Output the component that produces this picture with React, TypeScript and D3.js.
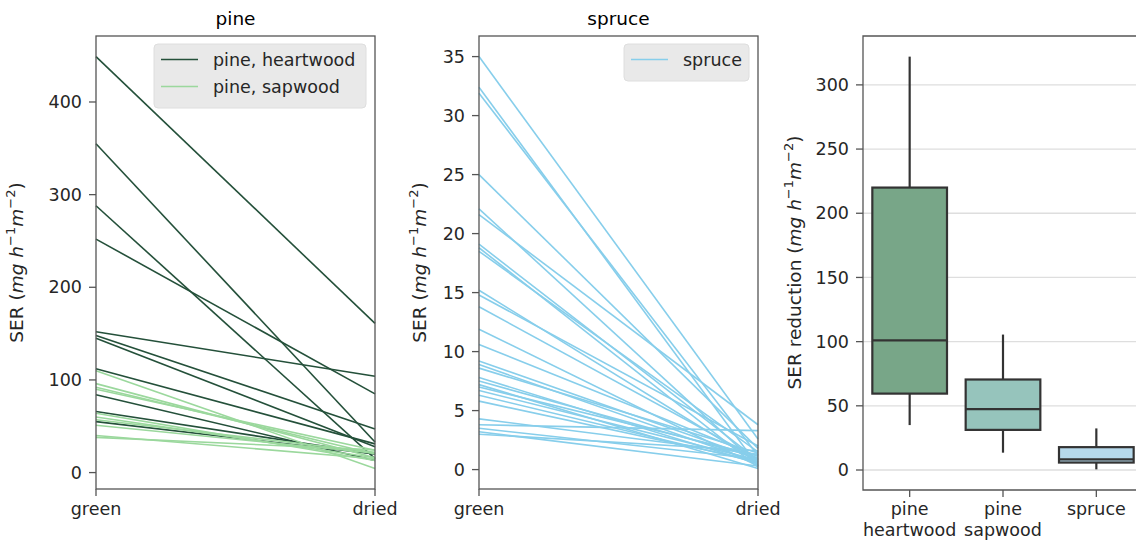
import React from "react";
import * as d3 from "d3";

// ---------- data ----------
const xCategories = ["green", "dried"];

const pineHeartGreen = [449, 355, 288, 252, 152, 148, 145, 112, 84, 66, 55];
const pineHeartDried = [161, 33, 15, 85, 104, 47, 28, 31, 13, 20, 20];
const pineSapGreen = [110, 96, 92, 90, 64, 60, 57, 51, 40, 38];
const pineSapDried = [4.5, 16, 20, 24, 13, 16, 22, 21, 15, 24.5];

const spruceGreen = [35.0, 32.4, 31.9, 25.0, 22.1, 21.6, 19.1, 18.8, 18.5, 15.2, 14.8, 13.8, 11.9, 10.6, 9.2, 8.9, 8.6, 7.8, 7.5, 7.2, 7.0, 6.7, 6.3, 5.8, 4.3, 3.8, 3.5, 3.2, 3.0];
const spruceDried = [2.6, 0.3, 1.2, 1.8, 0.4, 3.8, 0.8, 0.2, 1.5, 0.6, 2.0, 0.9, 0.3, 1.1, 0.9, 0.6, 1.4, 0.5, 1.0, 0.1, 1.2, 0.8, 0.6, 0.7, 1.3, 3.3, 0.9, 0.3, 1.6];

const pineTicks = [0, 100, 200, 300, 400];
const spruceTicks = [0, 5, 10, 15, 20, 25, 30, 35];
const reductionTicks = [0, 50, 100, 150, 200, 250, 300];

const boxCategories = [["pine", "heartwood"], ["pine", "sapwood"], ["spruce"]];

// ---------- styles ----------
const FONT = "DejaVu Sans, sans-serif";
const TXT = "#262626";
const SPINE = "#555555";
const HEART = "#24503a";
const SAP = "#9bd89d";
const SPRUCE = "#87ceeb";
const BOX_FILLS = ["#78a688", "#96c4bc", "#b6d9eb"];
const TOP = 36;
const BOTTOM = 489;

function padDomain(vals: number[]): [number, number] {
  const lo = d3.min(vals)!;
  const hi = d3.max(vals)!;
  const m = (hi - lo) * 0.05;
  return [lo - m, hi + m];
}

function YLabel({ cx, text }: { cx: number; text: string }) {
  const cy = (TOP + BOTTOM) / 2;
  return (
    <text
      transform={`translate(${cx},${cy}) rotate(-90)`}
      textAnchor="middle"
      fontSize={18.5}
      fill={TXT}
      fontFamily={FONT}
    >
      {text} (<tspan fontStyle="italic">mg h</tspan>
      <tspan fontSize={13} dy={-8}>−1</tspan>
      <tspan dy={8} fontStyle="italic">m</tspan>
      <tspan fontSize={13} dy={-8}>−2</tspan>
      <tspan dy={8}>)</tspan>
    </text>
  );
}

type Series = { green: number[]; dried: number[]; color: string; label: string };

function LinePanel({
  x0, x1, title, ticks, series, legendWidth, labelX,
}: {
  x0: number; x1: number; title: string; ticks: number[]; series: Series[]; legendWidth: number; labelX: number;
}) {
  const all = series.flatMap((s) => [...s.green, ...s.dried]);
  const y = d3.scaleLinear().domain(padDomain(all)).range([BOTTOM, TOP]);
  const x = d3.scalePoint<string>().domain(xCategories).range([x0, x1]);
  const line = d3.line<[string, number]>().x((d) => x(d[0])!).y((d) => y(d[1]));
  const legX = x1 - 9 - legendWidth;
  const legH = 10 + series.length * 27;
  return (
    <g fontFamily={FONT}>
      <text x={(x0 + x1) / 2} y={25} textAnchor="middle" fontSize={18.5} fill="#000">{title}</text>
      {series.map((s, si) =>
        s.green.map((g, i) => (
          <path
            key={si + "-" + i}
            d={line([["green", g], ["dried", s.dried[i]]])!}
            stroke={s.color}
            strokeWidth={1.6}
            fill="none"
          />
        ))
      )}
      <rect x={x0} y={TOP} width={x1 - x0} height={BOTTOM - TOP} fill="none" stroke={SPINE} strokeWidth={1.3} />
      {ticks.map((t) => (
        <g key={t}>
          <line x1={x0 - 7} x2={x0} y1={y(t)} y2={y(t)} stroke={SPINE} strokeWidth={1.3} />
          <text x={x0 - 14} y={y(t)} dy="0.35em" textAnchor="end" fontSize={17.5} fill={TXT}>{t}</text>
        </g>
      ))}
      {xCategories.map((c) => (
        <g key={c}>
          <line x1={x(c)} x2={x(c)} y1={BOTTOM} y2={BOTTOM + 7} stroke={SPINE} strokeWidth={1.3} />
          <text x={x(c)} y={BOTTOM + 26} textAnchor="middle" fontSize={17.5} fill={TXT}>{c}</text>
        </g>
      ))}
      <rect x={legX} y={44} width={legendWidth} height={legH} rx={4} fill="#e9e9e9" stroke="#dedede" />
      {series.map((s, i) => (
        <g key={s.label}>
          <line x1={legX + 7} x2={legX + 44} y1={59.5 + i * 27} y2={59.5 + i * 27} stroke={s.color} strokeWidth={1.6} />
          <text x={legX + 59} y={59.5 + i * 27} dy="0.35em" fontSize={17.5} fill={TXT}>{s.label}</text>
        </g>
      ))}
      <YLabel cx={labelX} text="SER" />
    </g>
  );
}

function boxStats(vals: number[]) {
  const s = [...vals].sort(d3.ascending);
  const q1 = d3.quantile(s, 0.25)!;
  const med = d3.quantile(s, 0.5)!;
  const q3 = d3.quantile(s, 0.75)!;
  const iqr = q3 - q1;
  const lo = d3.min(s.filter((v) => v >= q1 - 1.5 * iqr))!;
  const hi = d3.max(s.filter((v) => v <= q3 + 1.5 * iqr))!;
  return { q1, med, q3, lo, hi };
}

function BoxPanel({ x0, x1 }: { x0: number; x1: number }) {
  const groups = [
    pineHeartGreen.map((g, i) => g - pineHeartDried[i]),
    pineSapGreen.map((g, i) => g - pineSapDried[i]),
    spruceGreen.map((g, i) => g - spruceDried[i]),
  ];
  const stats = groups.map(boxStats);
  const keys = boxCategories.map((c) => c.join(" "));
  const x = d3.scaleBand<string>().domain(keys).range([x0, x1]);
  const y = d3.scaleLinear()
    .domain(padDomain(stats.flatMap((s) => [s.lo, s.hi])))
    .range([BOTTOM + 1, TOP]);
  const bw = x.bandwidth() * 0.8;
  return (
    <g fontFamily={FONT}>
      {reductionTicks.map((t) => (
        <line key={"g" + t} x1={x0} x2={x1} y1={y(t)} y2={y(t)} stroke="#dedede" strokeWidth={1.3} />
      ))}
      {stats.map((s, i) => {
        const cx = x(keys[i])! + x.bandwidth() / 2;
        return (
          <g key={i} stroke="#333" strokeWidth={2.2}>
            <line x1={cx} x2={cx} y1={y(s.hi)} y2={y(s.q3)} />
            <line x1={cx} x2={cx} y1={y(s.q1)} y2={y(s.lo)} />
            <rect x={cx - bw / 2} y={y(s.q3)} width={bw} height={y(s.q1) - y(s.q3)} fill={BOX_FILLS[i]} />
            <line x1={cx - bw / 2} x2={cx + bw / 2} y1={y(s.med)} y2={y(s.med)} />
          </g>
        );
      })}
      <path d={`M${x1},${TOP}H${x0}V${BOTTOM + 1}H${x1}`} fill="none" stroke={SPINE} strokeWidth={1.3} />
      <line x1={x1} x2={x1} y1={TOP} y2={BOTTOM + 1} stroke={SPINE} strokeWidth={1.3} />
      {reductionTicks.map((t) => (
        <g key={t}>
          <line x1={x0 - 7} x2={x0} y1={y(t)} y2={y(t)} stroke={SPINE} strokeWidth={1.3} />
          <text x={x0 - 14} y={y(t)} dy="0.35em" textAnchor="end" fontSize={17.5} fill={TXT}>{t}</text>
        </g>
      ))}
      {boxCategories.map((c, i) => {
        const cx = x(keys[i])! + x.bandwidth() / 2;
        return (
          <g key={i}>
            <line x1={cx} x2={cx} y1={BOTTOM + 1} y2={BOTTOM + 8} stroke={SPINE} strokeWidth={1.3} />
            <text x={cx} y={BOTTOM + 26} textAnchor="middle" fontSize={17.5} fill={TXT}>
              {c.map((ln, j) => (
                <tspan key={j} x={cx} dy={j === 0 ? 0 : 20.5}>{ln}</tspan>
              ))}
            </text>
          </g>
        );
      })}
      <YLabel cx={801} text="SER reduction" />
    </g>
  );
}

export default function App() {
  return (
    <svg
      width={1136}
      height={541}
      style={{ position: "absolute", left: 0, top: 0, background: "#fff" }}
    >
      <rect width={1136} height={541} fill="#fff" />
      <LinePanel
        x0={96}
        x1={375}
        title="pine"
        ticks={pineTicks}
        legendWidth={212}
        labelX={23}
        series={[
          { green: pineHeartGreen, dried: pineHeartDried, color: HEART, label: "pine, heartwood" },
          { green: pineSapGreen, dried: pineSapDried, color: SAP, label: "pine, sapwood" },
        ]}
      />
      <LinePanel
        x0={479}
        x1={758}
        title="spruce"
        ticks={spruceTicks}
        legendWidth={125}
        labelX={426}
        series={[{ green: spruceGreen, dried: spruceDried, color: SPRUCE, label: "spruce" }]}
      />
      <BoxPanel x0={863} x1={1143} />
    </svg>
  );
}
